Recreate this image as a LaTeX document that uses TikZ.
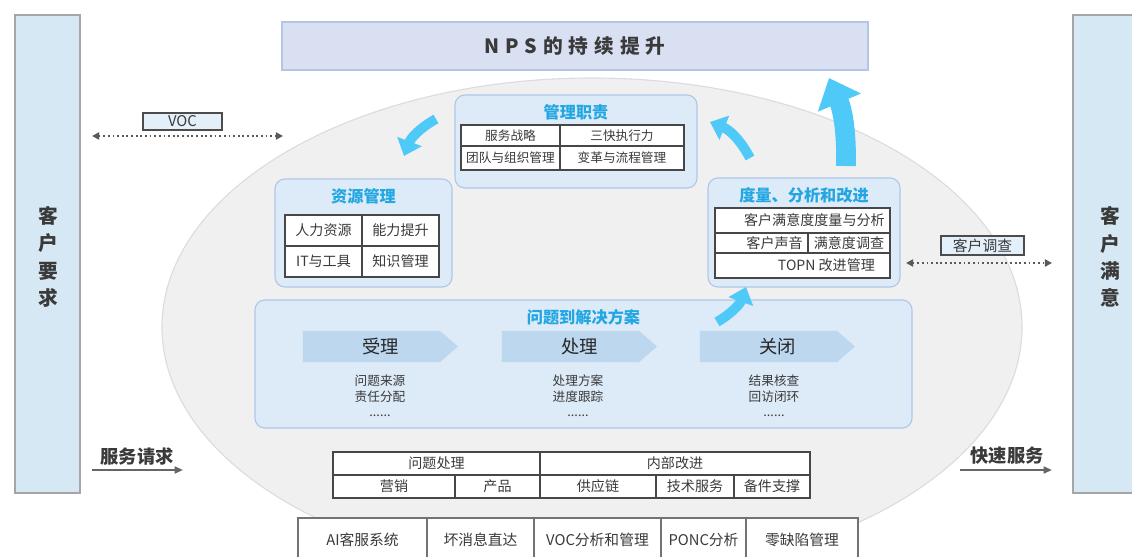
\documentclass[tikz,border=0pt]{standalone}
\usepackage{fontspec}
\setmainfont{Noto Sans CJK SC}
\usetikzlibrary{positioning,fit,calc,arrows.meta,shapes.symbols}
\definecolor{barblue}{HTML}{D5E8F4}
\definecolor{barline}{HTML}{A6A6A6}
\definecolor{npsfill}{HTML}{D9E0F2}
\definecolor{npsline}{HTML}{B4C5E6}
\definecolor{ovalfill}{HTML}{F0F0F0}
\definecolor{ovalline}{HTML}{DCDCDC}
\definecolor{grpfill}{HTML}{DDEAF7}
\definecolor{grpline}{HTML}{AFC7E7}
\definecolor{ttlblue}{HTML}{22A7E2}
\definecolor{chevfill}{HTML}{BDD7EE}
\definecolor{cycblue}{HTML}{4FC9F7}
\definecolor{tagfill}{HTML}{E3F0FA}
\definecolor{txtgray}{HTML}{3A3A3A}
\tikzset{bar/.style={draw=barline, fill=barblue, line width=0.8pt, inner sep=0}}
\tikzset{bartext/.style={text=txtgray, align=center, font=\bfseries\fontsize{14}{19.5}\selectfont}}
\tikzset{grp/.style={draw=grpline, fill=grpfill, rounded corners=7pt, line width=0.8pt, inner sep=0}}
\tikzset{grptitle/.style={text=ttlblue, inner sep=0, font=\bfseries\fontsize{11.5}{13}\selectfont}}
\tikzset{celltext/.style={text=txtgray, inner sep=0, font=\fontsize{10}{12}\selectfont}}
\tikzset{cellbox/.style={draw=black!72, fill=white, line width=0.9pt, inner sep=0}}
\tikzset{cell/.style={cellbox, label={[celltext]center:#1}}}
\tikzset{smallcell/.style={cellbox, label={[celltext, font=\fontsize{9}{11}\selectfont]center:#1}}}
\tikzset{rcell/.style={cellbox, label={[celltext, anchor=east, xshift=-4pt]east:#1}}}
\tikzset{toolcell/.style={cellbox, draw=black!55, label={[celltext, font=\fontsize{10.5}{12}\selectfont]center:#1}}}
\tikzset{chev/.style={signal, signal to=east, signal pointer angle=82, fill=chevfill, inner sep=0, minimum width=3.875cm, minimum height=0.775cm,
	label={[text=black!85, inner sep=0, xshift=0.225cm, font=\fontsize{13}{15}\selectfont]center:#1}}}
\tikzset{substeps/.style={align=center, text=txtgray, font=\fontsize{9}{11}\selectfont}}
\tikzset{tag/.style={draw=black!70, fill=tagfill, line width=0.8pt, inner sep=0, label={[celltext, font=\fontsize{10.5}{12}\selectfont]center:#1}}}
\tikzset{cyclearr/.style={draw=cycblue, line width=7pt, -{Triangle[length=11pt,width=18pt]}}}
\tikzset{talk/.style={draw=black!65, dotted, line width=1.3pt, {Triangle[length=5pt,width=5pt]}-{Triangle[length=5pt,width=5pt]}}}
\tikzset{reqarr/.style={draw=black!60, line width=1.3pt, -{Triangle[length=6pt,width=5pt]}}}
\tikzset{sidetext/.style={text=txtgray, inner sep=0, font=\bfseries\fontsize{13}{15}\selectfont}}

\begin{document}
\begin{tikzpicture}[x=0.025cm, y=-0.025cm]
	\useasboundingbox (0,0) rectangle (1132,557);

	% customer side bars
	\node[bar, fit={(15,15) (80,493)}] (lbar) {};
	\node[bar, fit={(1073,15) (1145,493)}] (rbar) {};
	\node[bartext] (reqT) at (48,257) {客\\户\\要\\求};
	\node[bartext] (satT) at (1110,257) {客\\户\\满\\意};

	\node[fit={(282,22) (868,70)}, draw=npsline, fill=npsfill, line width=0.8pt, inner sep=0,
		label={[text=txtgray, inner sep=0, font=\bfseries\fontsize{14}{16}\selectfont]center:\addfontfeatures{LetterSpace=30}NPS的持续提升}] (nps) {};

	\coordinate (oc) at (592,327);
	\draw[draw=ovalline, fill=ovalfill, line width=0.8pt] (oc) ellipse [x radius=430, y radius=249];

	% management
	\node[grp, fit={(455,95) (697,188)}] (mgmt) {};
	\node[grptitle, below=7pt of mgmt.north] (mgmtT) {管理职责};
	\node[smallcell=服务战略, fit={(461,125) (560,146)}] (ms1) {};
	\node[smallcell=三快执行力, fit={(560,125) (684,146)}] (ms2) {};
	\node[smallcell=团队与组织管理, fit={(461,146) (560,170)}] (ms3) {};
	\node[smallcell=变革与流程管理, fit={(560,146) (684,170)}] (ms4) {};

	% resources
	\node[grp, fit={(275,179) (452,287)}] (res) {};
	\node[grptitle, below=7pt of res.north] (resT) {资源管理};
	\node[cell=人力资源, fit={(285,215) (362,246)}] (rs1) {};
	\node[cell=能力提升, fit={(362,215) (439,246)}] (rs2) {};
	\node[cell=IT与工具, fit={(285,246) (362,277)}] (rs3) {};
	\node[cell=知识管理, fit={(362,246) (439,277)}] (rs4) {};

	% measure
	\node[grp, fit={(708,178) (900,287)}] (meas) {};
	\node[grptitle, below=7pt of meas.north] (measT) {度量、分析和改进};
	\node[rcell=客户满意度度量与分析, fit={(715,208) (890,233)}] (mt1) {};
	\node[rcell=客户声音, fit={(715,233) (808,253)}] (mt2) {};
	\node[cell=满意度调查, fit={(808,233) (890,253)}] (mt3) {};
	\node[cellbox, fit={(715,253) (890,278)}, label={[celltext, anchor=east, xshift=-11pt]east:TOPN 改进管理}] (mt4) {};

	% issue to resolution
	\node[grp, fit={(255,300) (912,428)}] (itr) {};
	\node[grptitle, below=7pt of itr.north] (itrT) {问题到解决方案};
	\node[chev=受理] (acc) at (371.5,346.5) {};
	\node[chev=处理] (hdl) at (570.5,346.5) {};
	\node[chev=关闭] (cls) at (768.5,346.5) {};
	\node[substeps] (accS) at (380,396) {问题来源\\责任分配\\......};
	\node[substeps] (hdlS) at (578,396) {处理方案\\进度跟踪\\......};
	\node[substeps] (clsS) at (774,396) {结果核查\\回访闭环\\......};

	% cycle arrows
	\coordinate (c1a) at (436,119);  \coordinate (c1b) at (404,156);
	\coordinate (c2a) at (750,158);  \coordinate (c2b) at (710,122);
	\coordinate (c3a) at (846,166);  \coordinate (c3b) at (829,78);
	\coordinate (c4a) at (717,322);  \coordinate (c4b) at (746,287);
	\draw[cyclearr] (c1a) to[bend right=20] (c1b);
	\draw[cyclearr] (c2a) to[bend right=20] (c2b);
	\draw[cyclearr, line width=14pt, -{Triangle[length=19pt,width=32pt]}] (c3a) to[bend right=12] (c3b);
	\draw[cyclearr] (c4a) to[bend right=20] (c4b);

	% departments
	\node[cell=问题处理, fit={(333,452) (540,475)}] (dp1) {};
	\node[cell=内部改进, fit={(540,452) (810,475)}] (dp2) {};
	\node[cell=营销, fit={(333,475) (455,498)}] (dp3) {};
	\node[cell=产品, fit={(455,475) (540,498)}] (dp4) {};
	\node[cell=供应链, fit={(540,475) (656,498)}] (dp5) {};
	\node[cell=技术服务, fit={(656,475) (734,498)}] (dp6) {};
	\node[cell=备件支撑, fit={(734,475) (810,498)}] (dp7) {};

	% tools
	\node[toolcell=AI客服系统, fit={(298,518) (427,562)}] (tl1) {};
	\node[toolcell=坏消息直达, fit={(427,518) (534,562)}] (tl2) {};
	\node[toolcell=VOC分析和管理, fit={(534,518) (661,562)}] (tl3) {};
	\node[toolcell=PONC分析, fit={(661,518) (746,562)}] (tl4) {};
	\node[toolcell=零缺陷管理, fit={(746,518) (858,562)}] (tl5) {};

	% voice of customer / survey
	\node[tag=VOC, fit={(143,113) (222,130)}] (voc) {};
	\coordinate (vocL) at (92,136);  \coordinate (vocR) at (283,136);
	\draw[talk] (vocL) -- (vocR);
	\node[tag=客户调查, fit={(941,236) (1024,255)}] (svy) {};
	\coordinate (svyL) at (906,263);  \coordinate (svyR) at (1052,263);
	\draw[talk] (svyL) -- (svyR);

	\node[sidetext] (srvIn) at (137,457) {服务请求};
	\coordinate (inL) at (92,470);  \coordinate (inR) at (183,470);
	\draw[reqarr] (inL) -- (inR);
	\node[sidetext] (srvOut) at (1007,456) {快速服务};
	\coordinate (outL) at (960,470);  \coordinate (outR) at (1052,470);
	\draw[reqarr] (outL) -- (outR);
\end{tikzpicture}
\end{document}
